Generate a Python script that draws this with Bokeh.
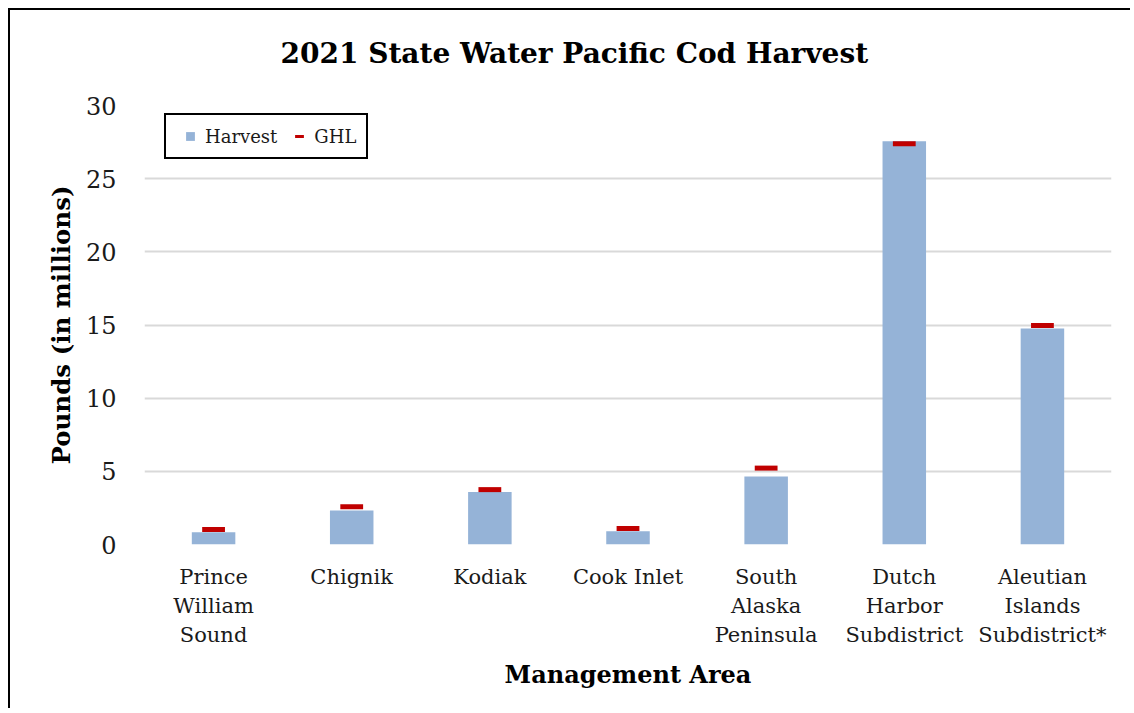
from bokeh.plotting import figure
from bokeh.models import (Range1d, FixedTicker, Legend, LegendItem, CategoricalAxis,
                          CustomJSTickFormatter, Title)
from bokeh.embed import file_html
from bokeh.resources import INLINE

# ---- data ----
areas = ["Prince William Sound", "Chignik", "Kodiak", "Cook Inlet",
         "South Alaska Peninsula", "Dutch Harbor Subdistrict",
         "Aleutian Islands Subdistrict*"]
area_lines = [["Prince", "William", "Sound"], ["Chignik"], ["Kodiak"], ["Cook Inlet"],
              ["South", "Alaska", "Peninsula"], ["Dutch", "Harbor", "Subdistrict"],
              ["Aleutian", "Islands", "Subdistrict*"]]
harvest = [0.84, 2.32, 3.58, 0.91, 4.65, 27.55, 14.76]
ghl = [1.03, 2.58, 3.75, 1.09, 5.22, 27.39, 14.97]
y_ticks = [0, 5, 10, 15, 20, 25, 30]
Y_MAX = 30

SERIF = "DejaVu Serif"
BLUE = "#95B3D7"
RED = "#C00000"
GRID = "#D9D9D9"

p = figure(x_range=areas, y_range=Range1d(0, Y_MAX), width=1122, height=700,
           output_backend="svg", toolbar_location=None,
           min_border_left=134, min_border_top=95, min_border_right=21,
           min_border_bottom=166)
p.styles = {"border-left": "2px solid black", "border-top": "2px solid black",
            "margin-left": "8px", "margin-top": "8px"}
p.x_range.range_padding = 0

p.vbar(x=areas, top=harvest, width=0.315, fill_color=BLUE, line_color=None)
p.rect(x=areas, y=ghl, width=0.165, height=5, height_units="screen",
       fill_color=RED, line_color=None)

# legend proxies (NaN data, not visible in plot)
nan = float("nan")
r_h = p.scatter(x=[areas[0]], y=[nan], marker="square", size=8, fill_color=BLUE, line_color=None)
r_g = p.scatter(x=[areas[0]], y=[nan], marker="dash", size=12, line_color=RED, line_width=3)
legend = Legend(items=[LegendItem(label="Harvest", renderers=[r_h]),
                       LegendItem(label="GHL", renderers=[r_g])],
                orientation="horizontal", location=(20, 385),
                border_line_color="black", border_line_width=2, border_line_alpha=1,
                label_text_font=SERIF, label_text_font_size="18px",
                label_text_color="#1a1a1a", glyph_width=28, glyph_height=22,
                spacing=8, padding=10, label_standoff=1, margin=0,
                background_fill_color="white", background_fill_alpha=1)
p.add_layout(legend)

# title (with a thin blank spacer between it and the frame)
p.title.text = "2021 State Water Pacific Cod Harvest"
p.title.text_font = SERIF
p.title.text_font_size = "28px"
p.title.text_font_style = "bold"
p.title.align = "left"
p.title.offset = 136
p.title.standoff = 46
p.title.text_color = "black"
spacer = Title(text=" ", text_font_size="1px", standoff=10)
p.add_layout(spacer, "above")

# y axis
p.yaxis.ticker = FixedTicker(ticks=y_ticks)
p.yaxis.axis_line_color = None
p.yaxis.major_tick_line_color = None
p.yaxis.minor_tick_line_color = None
p.yaxis.major_tick_out = 0
p.yaxis.major_tick_in = 0
p.yaxis.major_label_text_font = SERIF
p.yaxis.major_label_text_font_size = "24px"
p.yaxis.major_label_text_color = "#1a1a1a"
p.yaxis.major_label_standoff = 28
p.yaxis.axis_label = "Pounds (in millions)"
p.yaxis.axis_label_text_font = SERIF
p.yaxis.axis_label_text_font_size = "24.5px"
p.yaxis.axis_label_text_font_style = "bold"
p.yaxis.axis_label_text_color = "black"
p.yaxis.axis_label_standoff = 7


def style_x(ax, line_idx, standoff):
    ax.axis_line_color = None
    ax.major_tick_line_color = None
    ax.minor_tick_line_color = None
    ax.major_tick_out = 0
    ax.major_tick_in = 0
    ax.major_label_text_font = SERIF
    ax.major_label_text_font_size = "21px"
    ax.major_label_text_color = "#1a1a1a"
    ax.major_label_standoff = standoff
    mapping = {a: (ls[line_idx] if len(ls) > line_idx else "")
               for a, ls in zip(areas, area_lines)}
    ax.formatter = CustomJSTickFormatter(args=dict(m=mapping),
                                         code="return (tick in m) ? m[tick] : '';")


# x axis: one categorical axis per label line
style_x(p.xaxis[0], 0, 20)
ax2 = CategoricalAxis()
style_x(ax2, 1, 2)
p.add_layout(ax2, "below")
ax3 = CategoricalAxis()
style_x(ax3, 2, 2)
ax3.axis_label = "Management Area"
ax3.axis_label_text_font = SERIF
ax3.axis_label_text_font_size = "24px"
ax3.axis_label_text_font_style = "bold"
ax3.axis_label_text_color = "black"
ax3.axis_label_standoff = 10
p.add_layout(ax3, "below")

p.xgrid.grid_line_color = None
p.ygrid.grid_line_color = GRID
p.ygrid.grid_line_width = 2
p.outline_line_color = None
p.background_fill_color = "white"
p.border_fill_color = "white"

open("out.html", "w").write(file_html(p, INLINE))
